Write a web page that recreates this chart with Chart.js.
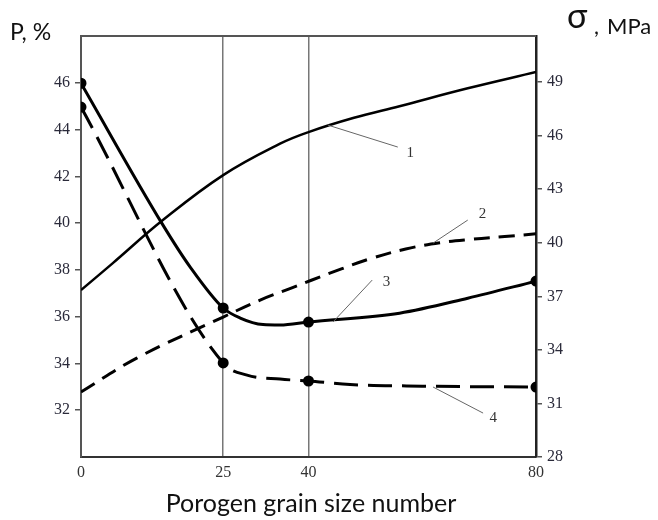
<!DOCTYPE html>
<html>
<head>
<meta charset="utf-8">
<script src="https://cdn.jsdelivr.net/npm/chart.js@4.4.1/dist/chart.umd.min.js"></script>
<style>
  html, body { margin: 0; padding: 0; background: #fff; }
  #wrap { width: 658px; height: 520px; }
</style>
</head>
<body>
<div id="wrap"><canvas id="mychart" width="658" height="520"></canvas></div>
<script>
// grain size numbers on the x axis
const xTicks = [0, 25, 40, 80];
const pTicks = [32, 34, 36, 38, 40, 42, 44, 46];
const sigmaTicks = [28, 31, 34, 37, 40, 43, 46, 49];

// curve 1, sigma (MPa)
const c1X = [0, 5.6, 14.4, 25, 35, 40, 48, 56, 68, 80];
const c1Y = [37.35, 38.86, 41.27, 43.79, 45.55, 46.2, 47.0, 47.65, 48.65, 49.56];
// curve 2, sigma (MPa)
const c2X = [0, 9.8, 25, 31.5, 37.3, 40.5, 45.9, 51.3, 57.1, 63.1, 68.9, 74.5, 80];
const c2Y = [31.64, 33.54, 35.84, 36.79, 37.5, 37.9, 38.55, 39.15, 39.65, 40.0, 40.2, 40.35, 40.5];
// curve 3, P (%)
const c3X = [0, 14.2, 19.2, 25, 28, 32, 35, 40, 56, 68, 80];
const c3Y = [45.98, 40.0, 38.12, 36.37, 35.94, 35.66, 35.64, 35.77, 36.15, 36.79, 37.52];
// curve 4, P (%)
const c4X = [0, 25, 29.2, 35, 40, 47.3, 60, 80];
const c4Y = [44.96, 34.02, 33.5, 33.33, 33.25, 33.1, 33.03, 32.99];
// measured points (dots) on curves 3 and 4
const markX = [0, 25, 40, 80];

const pts = (xs, ys) => xs.map((x, i) => ({ x: x, y: ys[i] }));
const dotRadius = ctx => markX.includes(ctx.raw && ctx.raw.x) ? 4 : 0;

const serif = "'Liberation Serif', 'DejaVu Serif', serif";
const sans = "Lato, 'Open Sans', sans-serif";

// curve labels with leader lines, in x / sigma units
const callouts = [
  { t: "1", from: [43.4, 46.59], to: [55.7, 45.36], at: [57.9, 45.05] },
  { t: "2", from: [61.9, 39.98], to: [68.0, 41.27], at: [70.6, 41.6] },
  { t: "3", from: [44.3, 35.56], to: [51.2, 37.91], at: [53.7, 37.8] },
  { t: "4", from: [61.9, 31.92], to: [70.7, 30.46], at: [72.5, 30.2] }
];

const extras = {
  id: 'extras',
  afterDraw(chart) {
    const c = chart.ctx, a = chart.chartArea;
    const xs = chart.scales.x, ys = chart.scales.yS;
    c.save();
    // top frame line
    c.strokeStyle = '#555';
    c.lineWidth = 2;
    c.beginPath();
    c.moveTo(a.left, a.top);
    c.lineTo(a.right, a.top);
    c.stroke();
    // callouts
    callouts.forEach(o => {
      c.strokeStyle = '#666';
      c.lineWidth = 1;
      c.beginPath();
      c.moveTo(xs.getPixelForValue(o.from[0]), ys.getPixelForValue(o.from[1]));
      c.lineTo(xs.getPixelForValue(o.to[0]), ys.getPixelForValue(o.to[1]));
      c.stroke();
      c.fillStyle = '#333';
      c.font = "15px " + serif;
      c.textAlign = 'center';
      c.textBaseline = 'middle';
      c.fillText(o.t, xs.getPixelForValue(o.at[0]), ys.getPixelForValue(o.at[1]));
    });
    // axis titles
    c.fillStyle = '#111';
    c.textAlign = 'left';
    c.textBaseline = 'alphabetic';
    c.font = "23px " + sans;
    c.fillText("P, %", 10, 40);
    c.font = "34px " + sans;
    c.fillText("σ", 567, 28);
    c.font = "22px " + sans;
    c.fillText(",", 594, 34);
    c.fillText("MPa", 607, 34);
    c.font = "25px " + sans;
    c.textAlign = 'center';
    c.fillText("Porogen grain size number", 311, 512);
    c.restore();
  }
};

const fixTicks = list => scale => { scale.ticks = list.map(v => ({ value: v })); };

new Chart(document.getElementById("mychart"), {
  type: 'scatter',
  data: {
    datasets: [{
        label: "1",
        data: pts(c1X, c1Y),
        yAxisID: 'yS',
        showLine: true,
        borderColor: "#000",
        borderWidth: 2.5,
        pointRadius: 0,
        tension: 0.4
      }, {
        label: "2",
        data: pts(c2X, c2Y),
        yAxisID: 'yS',
        showLine: true,
        borderColor: "#000",
        borderWidth: 3,
        borderDash: [16, 9],
        pointRadius: 0,
        tension: 0.4
      }, {
        label: "3",
        data: pts(c3X, c3Y),
        yAxisID: 'yP',
        showLine: true,
        borderColor: "#000",
        backgroundColor: "#000",
        borderWidth: 3,
        pointRadius: dotRadius,
        cubicInterpolationMode: 'monotone'
      }, {
        label: "4",
        data: pts(c4X, c4Y),
        yAxisID: 'yP',
        showLine: true,
        borderColor: "#000",
        backgroundColor: "#000",
        borderWidth: 3,
        borderDash: [24, 10],
        pointRadius: dotRadius,
        cubicInterpolationMode: 'monotone'
      }
    ]
  },
  options: {
    responsive: false,
    animation: false,
    layout: { padding: { top: 36, left: 0, right: 0, bottom: 0 } },
    plugins: { legend: { display: false }, tooltip: { enabled: false } },
    scales: {
      x: {
        type: 'linear',
        min: 0, max: 80,
        afterBuildTicks: fixTicks(xTicks),
        afterFit: s => { s.height = 63; },
        grid: { color: '#777', lineWidth: 1.5, drawTicks: false },
        border: { color: '#333', width: 2 },
        ticks: { padding: 6, color: '#333', font: { family: serif, size: 16 } }
      },
      yP: {
        position: 'left',
        min: 30, max: 48,
        afterBuildTicks: fixTicks(pTicks),
        afterFit: s => { s.width = 81; },
        grid: { drawOnChartArea: false, tickLength: 6, color: '#555', lineWidth: 1.5 },
        border: { color: '#555', width: 2 },
        ticks: { padding: 5, color: '#2a2a3a', font: { family: serif, size: 16 } }
      },
      yS: {
        position: 'right',
        min: 28, max: 51.58,
        afterBuildTicks: fixTicks(sigmaTicks),
        afterFit: s => { s.width = 122; },
        grid: { drawOnChartArea: false, tickLength: 6, color: '#555', lineWidth: 1.5 },
        border: { color: '#222', width: 2.5 },
        ticks: { padding: 5, color: '#2a2a3a', font: { family: serif, size: 16 } }
      }
    }
  },
  plugins: [extras]
});
</script>
</body>
</html>
